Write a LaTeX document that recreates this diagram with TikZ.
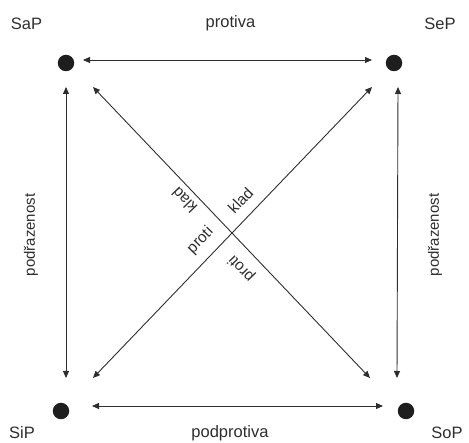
\documentclass[tikz,border=0pt]{standalone}
\usepackage{fontspec}
\setmainfont{Liberation Sans}
\usetikzlibrary{arrows.meta}
\definecolor{ink}{HTML}{2E2E2E}
\definecolor{dotc}{HTML}{1E1E1E}
\begin{document}
\begin{tikzpicture}[x=1pt,y=-1pt,
  dot/.style={circle,fill=dotc,inner sep=0pt,minimum size=16.5pt},
  conn/.style={draw=ink,line width=0.9pt,{Triangle[length=7pt,width=6pt]}-{Triangle[length=7pt,width=6pt]}},
  lbl/.style={text=ink,font=\fontsize{16.5}{18}\selectfont,inner sep=0pt,anchor=base},
  vlbl/.style={text=ink,font=\fontsize{15}{17}\selectfont,inner sep=0pt,rotate=90},
  dlbl/.style={text=ink,font=\fontsize{15.5}{17}\selectfont,inner sep=0pt}]
\useasboundingbox (0,0) rectangle (469,443);
% dots
\node[dot] (sap) at (66,63) {};
\node[dot] (sep) at (394,63) {};
\node[dot] (sip) at (61,411) {};
\node[dot] (sop) at (406,411) {};
% corner labels
\node[lbl] (tsap) at (26.5,29.5) {SaP};
\node[lbl] (tsep) at (440,29.5) {SeP};
\node[lbl] (tsip) at (22,439) {SiP};
\node[lbl] (tsop) at (447,439) {SoP};
% arrow ends
\coordinate (t1) at (83,60);  \coordinate (t2) at (372,60);
\coordinate (b1) at (92,406); \coordinate (b2) at (383,406);
\coordinate (l1) at (66,87);  \coordinate (l2) at (66,378);
\coordinate (r1) at (398,87); \coordinate (r2) at (397,378);
\coordinate (d1) at (93,87);  \coordinate (d2) at (370,378);
\coordinate (e1) at (372,87); \coordinate (e2) at (93,378);
\draw[conn] (t1) -- (t2);
\draw[conn] (b1) -- (b2);
\draw[conn] (l1) -- (l2);
\draw[conn] (r1) -- (r2);
\draw[conn] (d1) -- (d2);
\draw[conn] (e1) -- (e2);
% edge labels
\node[lbl] (protiva) at (230.5,28) {protiva};
\node[lbl] (podprotiva) at (230,438) {podprotiva};
\node[vlbl] (podl) at (31,235) {podřazenost};
\node[vlbl] (podr) at (435,235) {podřazenost};
\node[dlbl,rotate=134] (kladl) at (184.5,200.5) {klad};
\node[dlbl,rotate=134] (protir) at (241.5,268.5) {proti};
\node[dlbl,rotate=46] (kladr) at (240.5,200.5) {klad};
\node[dlbl,rotate=46] (protil) at (200.5,240.5) {proti};
\end{tikzpicture}
\end{document}
